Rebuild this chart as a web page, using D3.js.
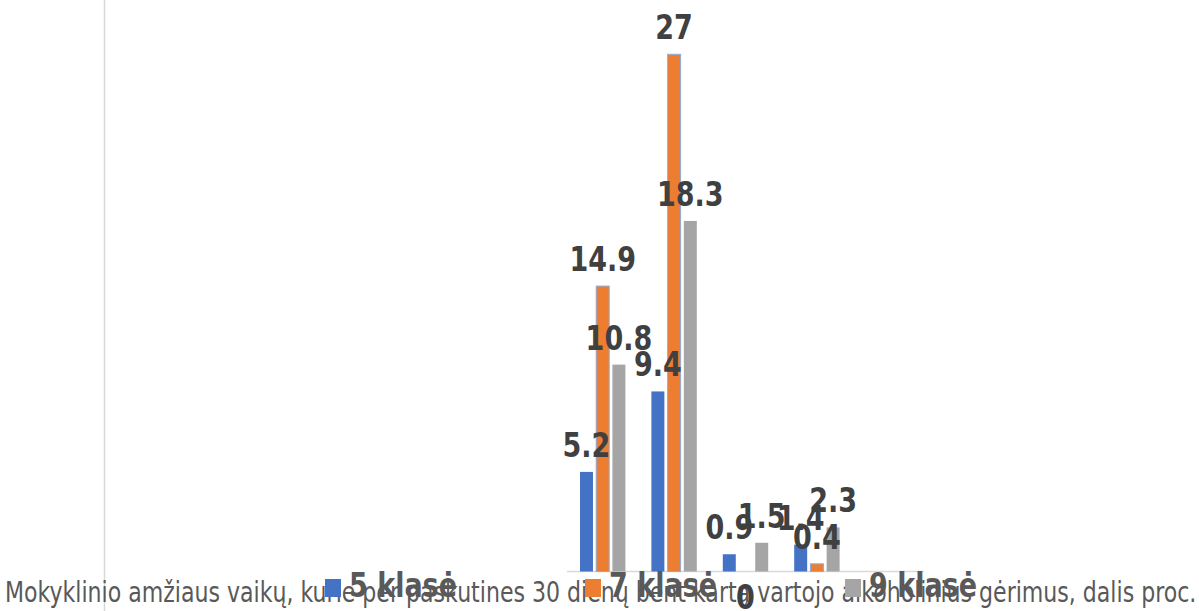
<!DOCTYPE html>
<html>
<head>
<meta charset="utf-8">
<script src="https://cdn.jsdelivr.net/npm/d3@7"></script>
<style>
  html, body { margin: 0; padding: 0; background: #fff; }
  svg { display: block; }
</style>
</head>
<body>
<svg width="1199" height="611"></svg>
<script>
const categories = ['1', '2', '3', '4', '5'];
const series = ['5 klasė', '7 klasė', '9 klasė'];
const values5 = [5.2, 9.4, 0.9, 1.4, null];
const values7 = [14.9, 27, 0, 0.4, null];
const values9 = [10.8, 18.3, 1.5, 2.3, null];
const colors = ['#4472C4', '#ED7D31', '#A5A5A5'];
const title = 'Mokyklinio amžiaus vaikų, kurie per paskutines 30 dienų bent kartą vartojo alkoholinius gėrimus, dalis proc.';

const svg = d3.select('svg');
const font = 'DejaVu Sans';
const stretch = 1.27; // text in the picture is taller than it is wide
const axisY = 571.5;

const x0 = d3.scaleBand().domain(categories).range([567, 924]);
const x1 = d3.scaleBand().domain(series).range([13, 58.4]).paddingInner(0.2);
const y = d3.scaleLinear().domain([0, 27]).range([axisY, 54.3]);

function print (g, text, attr) {
  const t = g.append('text').text(text)
    .attr('transform', `translate(${attr.x},${attr.y}) scale(1,${stretch})`)
    .attr('text-anchor', attr.align || 'middle')
    .attr('font-family', font)
    .attr('font-size', attr.size)
    .attr('fill', attr.color || '#595959');
  attr.bold && t.attr('font-weight', 'bold');
  return t;
}

// left rule and category axis
svg.append('line')
  .attr('x1', 104.5).attr('x2', 104.5)
  .attr('y1', 0).attr('y2', 611)
  .attr('stroke', '#d9d9d9').attr('stroke-width', 1.5);

svg.append('line')
  .attr('x1', x0.range()[0]).attr('x2', x0.range()[1])
  .attr('y1', axisY).attr('y2', axisY)
  .attr('stroke', '#d9d9d9').attr('stroke-width', 1.5);

// title, sized to run across the whole width
const tg = svg.append('g');
const tt = print(tg, title, { x: 5, y: 602, size: 20, align: 'start' });
const len = tt.node().getComputedTextLength();
tt.attr('font-size', 20 * 1192 / len);

// bars
const rows = categories.map((c, i) => ({
  cat: c,
  vals: [values5[i], values7[i], values9[i]]
}));

const bars = svg.append('g');
rows.forEach(r => {
  r.vals.forEach((v, j) => {
    if (v == null) { return; }
    bars.append('rect')
      .attr('x', x0(r.cat) + x1(series[j]))
      .attr('y', y(v))
      .attr('width', x1.bandwidth())
      .attr('height', axisY - y(v))
      .attr('fill', colors[j])
      .attr('stroke', j === 1 ? '#8faadc' : 'none')
      .attr('stroke-width', 1);
  });
});

// legend
const lg = svg.append('g');
const legendX = [325, 585, 845];
series.forEach((s, j) => {
  lg.append('rect')
    .attr('x', legendX[j]).attr('y', 579)
    .attr('width', 16).attr('height', 18)
    .attr('fill', colors[j]);
  print(lg, s, { x: legendX[j] + 24, y: 597, size: 27, bold: 1, align: 'start' });
});

// value labels
const labels = svg.append('g');
rows.forEach(r => {
  r.vals.forEach((v, j) => {
    if (v == null) { return; }
    const cx = x0(r.cat) + x1(series[j]) + x1.bandwidth() / 2;
    const ly = v > 0 ? y(v) - 15 : axisY + 37;
    print(labels, String(v), { x: cx, y: ly, size: 27, bold: 1, color: '#404040' });
  });
});
</script>
</body>
</html>
